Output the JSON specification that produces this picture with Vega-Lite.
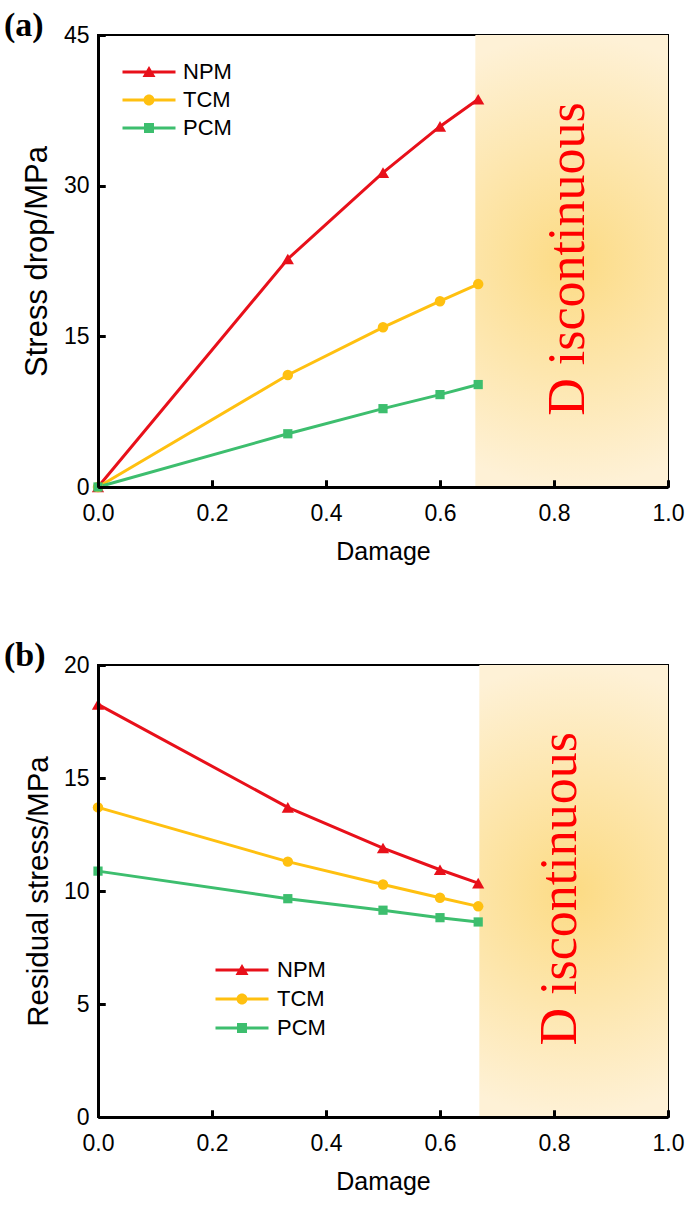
{
  "$schema": "https://vega.github.io/schema/vega-lite/v6.json",
  "background": "white",
  "padding": {"left": 3, "top": 8, "right": 16, "bottom": 4},
  "spacing": 73,
  "config": {
    "font": "Liberation Sans",
    "view": {"stroke": "black", "strokeWidth": 2},
    "axis": {
      "domainColor": "black", "domainWidth": 3,
      "tickColor": "black", "tickWidth": 3,
      "labelFont": "Liberation Sans", "labelFontSize": 23, "labelColor": "black",
      "titleFont": "Liberation Sans", "titleFontSize": 25, "titleFontWeight": "normal", "titleColor": "black",
      "grid": false
    },
    "axisX": {"labelPadding": 22, "titlePadding": 14, "labelFlush": false},
    "axisY": {"labelPadding": 16, "titlePadding": 10},
    "legend": {
      "orient": "none", "title": null, "padding": 0,
      "labelFont": "Liberation Sans", "labelFontSize": 22, "labelColor": "black",
      "symbolSize": 100, "symbolStrokeWidth": 0, "symbolOpacity": 1, "labelOffset": 23, "rowPadding": 6
    }
  },
  "datasets": {
    "a": [
      {"damage": 0, "series": "NPM", "value": 0},
      {"damage": 0.333, "series": "NPM", "value": 22.7},
      {"damage": 0.5, "series": "NPM", "value": 31.3},
      {"damage": 0.6, "series": "NPM", "value": 35.9},
      {"damage": 0.667, "series": "NPM", "value": 38.6},
      {"damage": 0, "series": "TCM", "value": 0},
      {"damage": 0.333, "series": "TCM", "value": 11.15},
      {"damage": 0.5, "series": "TCM", "value": 15.9},
      {"damage": 0.6, "series": "TCM", "value": 18.5},
      {"damage": 0.667, "series": "TCM", "value": 20.2},
      {"damage": 0, "series": "PCM", "value": 0},
      {"damage": 0.333, "series": "PCM", "value": 5.3},
      {"damage": 0.5, "series": "PCM", "value": 7.8},
      {"damage": 0.6, "series": "PCM", "value": 9.2},
      {"damage": 0.667, "series": "PCM", "value": 10.2}
    ],
    "b": [
      {"damage": 0, "series": "NPM", "value": 18.26},
      {"damage": 0.333, "series": "NPM", "value": 13.7},
      {"damage": 0.5, "series": "NPM", "value": 11.9},
      {"damage": 0.6, "series": "NPM", "value": 10.94},
      {"damage": 0.667, "series": "NPM", "value": 10.35},
      {"damage": 0, "series": "TCM", "value": 13.7},
      {"damage": 0.333, "series": "TCM", "value": 11.3},
      {"damage": 0.5, "series": "TCM", "value": 10.29},
      {"damage": 0.6, "series": "TCM", "value": 9.7},
      {"damage": 0.667, "series": "TCM", "value": 9.32},
      {"damage": 0, "series": "PCM", "value": 10.88},
      {"damage": 0.333, "series": "PCM", "value": 9.66},
      {"damage": 0.5, "series": "PCM", "value": 9.15},
      {"damage": 0.6, "series": "PCM", "value": 8.82},
      {"damage": 0.667, "series": "PCM", "value": 8.63}
    ]
  },
  "resolve": {"scale": {"color": "independent", "shape": "independent"}, "legend": {"color": "independent", "shape": "independent"}},
  "vconcat": [
    {
      "width": 570, "height": 452,
      "title": {"text": "(a)", "anchor": "start", "frame": "group", "dx": -94, "offset": -46, "font": "Liberation Serif", "fontSize": 34, "fontWeight": "bold", "color": "black", "baseline": "alphabetic"},
      "resolve": {"axis": {"x": "independent", "y": "independent"}},
      "layer": [
        {
          "data": {"values": [{"x0": 0.662, "x1": 1, "y0": 0, "y1": 45}]},
          "mark": {"type": "rect", "fill": {"gradient": "radial", "x1": 0.5, "y1": 0.5, "r1": 0, "x2": 0.5, "y2": 0.5, "r2": 0.5, "stops": [{"offset": 0, "color": "#FCDB84"}, {"offset": 1, "color": "#FEF1D6"}]}},
          "encoding": {
            "x": {"field": "x0", "type": "quantitative", "scale": {"domain": [0, 1], "nice": false}, "title": "Damage", "axis": {"values": [0, 0.2, 0.4, 0.6, 0.8, 1.0], "format": ".1f", "ticks": true, "tickSize": -7, "orient": "bottom", "zindex": 1}},
            "x2": {"field": "x1"},
            "y": {"field": "y0", "type": "quantitative", "scale": {"domain": [0, 45], "nice": false}, "title": "Stress drop/MPa", "axis": {"values": [0, 15, 30, 45], "ticks": true, "tickSize": -7, "orient": "left", "titleFontSize": 31, "zindex": 1}},
            "y2": {"field": "y1"}
          }
        },
        {
          "data": {"name": "a"},
          "transform": [{"filter": "datum.series === 'NPM'"}],
          "mark": {"type": "line", "strokeWidth": 3, "color": "#E8101A"},
          "encoding": {
            "x": {"field": "damage", "type": "quantitative", "axis": {"orient": "bottom", "offset": -7, "tickSize": 7, "domain": false, "labels": false, "title": null, "values": [0.2, 0.4, 0.6, 0.8, 1.0], "zindex": 2}},
            "y": {"field": "value", "type": "quantitative", "axis": {"orient": "left", "offset": -7, "tickSize": 7, "domain": false, "labels": false, "title": null, "values": [15, 30, 45], "zindex": 2}}
          }
        },
        {
          "data": {"name": "a"},
          "transform": [{"filter": "datum.series === 'TCM'"}],
          "mark": {"type": "line", "strokeWidth": 3, "color": "#FFC010"},
          "encoding": {
            "x": {"field": "damage", "type": "quantitative", "axis": null},
            "y": {"field": "value", "type": "quantitative", "axis": null}
          }
        },
        {
          "data": {"name": "a"},
          "transform": [{"filter": "datum.series === 'PCM'"}],
          "mark": {"type": "line", "strokeWidth": 3, "color": "#3DBE6E"},
          "encoding": {
            "x": {"field": "damage", "type": "quantitative", "axis": null},
            "y": {"field": "value", "type": "quantitative", "axis": null}
          }
        },
        {
          "data": {"name": "a"},
          "mark": {"type": "point", "filled": true, "opacity": 0, "size": 100},
          "encoding": {
            "x": {"field": "damage", "type": "quantitative", "axis": null},
            "y": {"field": "value", "type": "quantitative", "axis": null},
            "color": {"field": "series", "type": "nominal", "scale": {"domain": ["NPM", "TCM", "PCM"], "range": ["#E8101A", "#FFC010", "#3DBE6E"]}, "legend": {"legendX": 40, "legendY": 26}},
            "shape": {"field": "series", "type": "nominal", "scale": {"domain": ["NPM", "TCM", "PCM"], "range": ["M-5.3,-0.3H5.3V0.3H-5.3ZM0,-1.2L1.3,1L-1.3,1Z", "M-5.3,-0.3H5.3V0.3H-5.3ZM1.1,0A1.1,1.1,0,1,1,-1.1,0A1.1,1.1,0,1,1,1.1,0Z", "M-5.3,-0.3H5.3V0.3H-5.3ZM-1,-1H1V1H-1Z"]}, "legend": {"legendX": 40, "legendY": 26}}
          }
        },
        {
          "data": {"name": "a"},
          "transform": [{"filter": "datum.series === 'NPM'"}],
          "mark": {"type": "point", "filled": true, "opacity": 1, "shape": "triangle-up", "size": 150, "color": "#E8101A"},
          "encoding": {
            "x": {"field": "damage", "type": "quantitative", "axis": null},
            "y": {"field": "value", "type": "quantitative", "axis": null}
          }
        },
        {
          "data": {"name": "a"},
          "transform": [{"filter": "datum.series === 'TCM'"}],
          "mark": {"type": "point", "filled": true, "opacity": 1, "shape": "circle", "size": 110, "color": "#FFC010"},
          "encoding": {
            "x": {"field": "damage", "type": "quantitative", "axis": null},
            "y": {"field": "value", "type": "quantitative", "axis": null}
          }
        },
        {
          "data": {"name": "a"},
          "transform": [{"filter": "datum.series === 'PCM'"}],
          "mark": {"type": "point", "filled": true, "opacity": 1, "shape": "square", "size": 85, "color": "#3DBE6E"},
          "encoding": {
            "x": {"field": "damage", "type": "quantitative", "axis": null},
            "y": {"field": "value", "type": "quantitative", "axis": null}
          }
        },
        {
          "data": {"values": [{"x": 0.825, "y": 22.7, "t": "D iscontinuous"}]},
          "mark": {"type": "text", "angle": 270, "font": "Liberation Serif", "fontSize": 52, "color": "#FF0000", "align": "center", "baseline": "middle"},
          "encoding": {
            "x": {"field": "x", "type": "quantitative", "axis": null},
            "y": {"field": "y", "type": "quantitative", "axis": null},
            "text": {"field": "t"}
          }
        }
      ]
    },
    {
      "width": 570, "height": 452,
      "title": {"text": "(b)", "anchor": "start", "frame": "group", "dx": -94, "offset": -46, "font": "Liberation Serif", "fontSize": 34, "fontWeight": "bold", "color": "black", "baseline": "alphabetic"},
      "resolve": {"axis": {"x": "independent", "y": "independent"}},
      "layer": [
        {
          "data": {"values": [{"x0": 0.669, "x1": 1, "y0": 0, "y1": 20}]},
          "mark": {"type": "rect", "fill": {"gradient": "radial", "x1": 0.5, "y1": 0.5, "r1": 0, "x2": 0.5, "y2": 0.5, "r2": 0.5, "stops": [{"offset": 0, "color": "#FCDB84"}, {"offset": 1, "color": "#FEF1D6"}]}},
          "encoding": {
            "x": {"field": "x0", "type": "quantitative", "scale": {"domain": [0, 1], "nice": false}, "title": "Damage", "axis": {"values": [0, 0.2, 0.4, 0.6, 0.8, 1.0], "format": ".1f", "ticks": true, "tickSize": -7, "orient": "bottom", "zindex": 1}},
            "x2": {"field": "x1"},
            "y": {"field": "y0", "type": "quantitative", "scale": {"domain": [0, 20], "nice": false}, "title": "Residual stress/MPa", "axis": {"values": [0, 5, 10, 15, 20], "ticks": true, "tickSize": -7, "orient": "left", "titleFontSize": 29.5, "zindex": 1}},
            "y2": {"field": "y1"}
          }
        },
        {
          "data": {"name": "b"},
          "transform": [{"filter": "datum.series === 'NPM'"}],
          "mark": {"type": "line", "strokeWidth": 3, "color": "#E8101A"},
          "encoding": {
            "x": {"field": "damage", "type": "quantitative", "axis": {"orient": "bottom", "offset": -7, "tickSize": 7, "domain": false, "labels": false, "title": null, "values": [0.2, 0.4, 0.6, 0.8, 1.0], "zindex": 2}},
            "y": {"field": "value", "type": "quantitative", "axis": {"orient": "left", "offset": -7, "tickSize": 7, "domain": false, "labels": false, "title": null, "values": [5, 10, 15, 20], "zindex": 2}}
          }
        },
        {
          "data": {"name": "b"},
          "transform": [{"filter": "datum.series === 'TCM'"}],
          "mark": {"type": "line", "strokeWidth": 3, "color": "#FFC010"},
          "encoding": {
            "x": {"field": "damage", "type": "quantitative", "axis": null},
            "y": {"field": "value", "type": "quantitative", "axis": null}
          }
        },
        {
          "data": {"name": "b"},
          "transform": [{"filter": "datum.series === 'PCM'"}],
          "mark": {"type": "line", "strokeWidth": 3, "color": "#3DBE6E"},
          "encoding": {
            "x": {"field": "damage", "type": "quantitative", "axis": null},
            "y": {"field": "value", "type": "quantitative", "axis": null}
          }
        },
        {
          "data": {"name": "b"},
          "mark": {"type": "point", "filled": true, "opacity": 0, "size": 100},
          "encoding": {
            "x": {"field": "damage", "type": "quantitative", "axis": null},
            "y": {"field": "value", "type": "quantitative", "axis": null},
            "color": {"field": "series", "type": "nominal", "scale": {"domain": ["NPM", "TCM", "PCM"], "range": ["#E8101A", "#FFC010", "#3DBE6E"]}, "legend": {"legendX": 133, "legendY": 294, "rowPadding": 7, "labelOffset": 24}},
            "shape": {"field": "series", "type": "nominal", "scale": {"domain": ["NPM", "TCM", "PCM"], "range": ["M-5.3,-0.3H5.3V0.3H-5.3ZM0,-1.2L1.3,1L-1.3,1Z", "M-5.3,-0.3H5.3V0.3H-5.3ZM1.1,0A1.1,1.1,0,1,1,-1.1,0A1.1,1.1,0,1,1,1.1,0Z", "M-5.3,-0.3H5.3V0.3H-5.3ZM-1,-1H1V1H-1Z"]}, "legend": {"legendX": 133, "legendY": 294, "rowPadding": 7, "labelOffset": 24}}
          }
        },
        {
          "data": {"name": "b"},
          "transform": [{"filter": "datum.series === 'NPM'"}],
          "mark": {"type": "point", "filled": true, "opacity": 1, "shape": "triangle-up", "size": 150, "color": "#E8101A"},
          "encoding": {
            "x": {"field": "damage", "type": "quantitative", "axis": null},
            "y": {"field": "value", "type": "quantitative", "axis": null}
          }
        },
        {
          "data": {"name": "b"},
          "transform": [{"filter": "datum.series === 'TCM'"}],
          "mark": {"type": "point", "filled": true, "opacity": 1, "shape": "circle", "size": 110, "color": "#FFC010"},
          "encoding": {
            "x": {"field": "damage", "type": "quantitative", "axis": null},
            "y": {"field": "value", "type": "quantitative", "axis": null}
          }
        },
        {
          "data": {"name": "b"},
          "transform": [{"filter": "datum.series === 'PCM'"}],
          "mark": {"type": "point", "filled": true, "opacity": 1, "shape": "square", "size": 85, "color": "#3DBE6E"},
          "encoding": {
            "x": {"field": "damage", "type": "quantitative", "axis": null},
            "y": {"field": "value", "type": "quantitative", "axis": null}
          }
        },
        {
          "data": {"values": [{"x": 0.81, "y": 10.1, "t": "D iscontinuous"}]},
          "mark": {"type": "text", "angle": 270, "font": "Liberation Serif", "fontSize": 52, "color": "#FF0000", "align": "center", "baseline": "middle"},
          "encoding": {
            "x": {"field": "x", "type": "quantitative", "axis": null},
            "y": {"field": "y", "type": "quantitative", "axis": null},
            "text": {"field": "t"}
          }
        }
      ]
    }
  ]
}
